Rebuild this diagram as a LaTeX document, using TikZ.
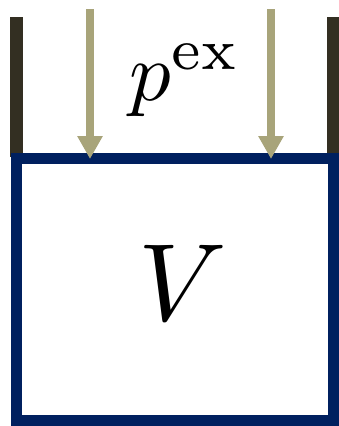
\documentclass[tikz,border=0pt]{standalone}
\usetikzlibrary{arrows.meta}
\definecolor{boxblue}{HTML}{00205F}
\definecolor{walldark}{HTML}{332F22}
\definecolor{arrowkhaki}{HTML}{A8A47A}
\tikzset{
  wall/.style={draw=walldark, line width=13pt},
  vessel/.style={draw=boxblue, line width=11pt},
  pressarrow/.style={draw=arrowkhaki, line width=8pt, -{Triangle[width=24pt,length=23pt]}, arrowkhaki},
}
\begin{document}
\begin{tikzpicture}[x=1pt,y=-1pt]
\useasboundingbox (0,0) rectangle (339,426);
\draw[wall] (16.5,17) -- (16.5,157);
\draw[wall] (333.5,17) -- (333.5,157);
\draw[vessel] (16.5,158) rectangle (333.5,420.5);
\coordinate (a1s) at (90,9);
\coordinate (a1e) at (90,159);
\coordinate (a2s) at (271,9);
\coordinate (a2e) at (271,159);
\draw[pressarrow] (a1s) -- (a1e);
\draw[pressarrow] (a2s) -- (a2e);
\node[anchor=base, inner sep=0pt, scale=8.3] (pex) at (185,100) {$p^{\mathrm{ex}}$};
\node[anchor=base, inner sep=0pt, scale=11] (vol) at (183,320) {$V$};
\end{tikzpicture}
\end{document}
